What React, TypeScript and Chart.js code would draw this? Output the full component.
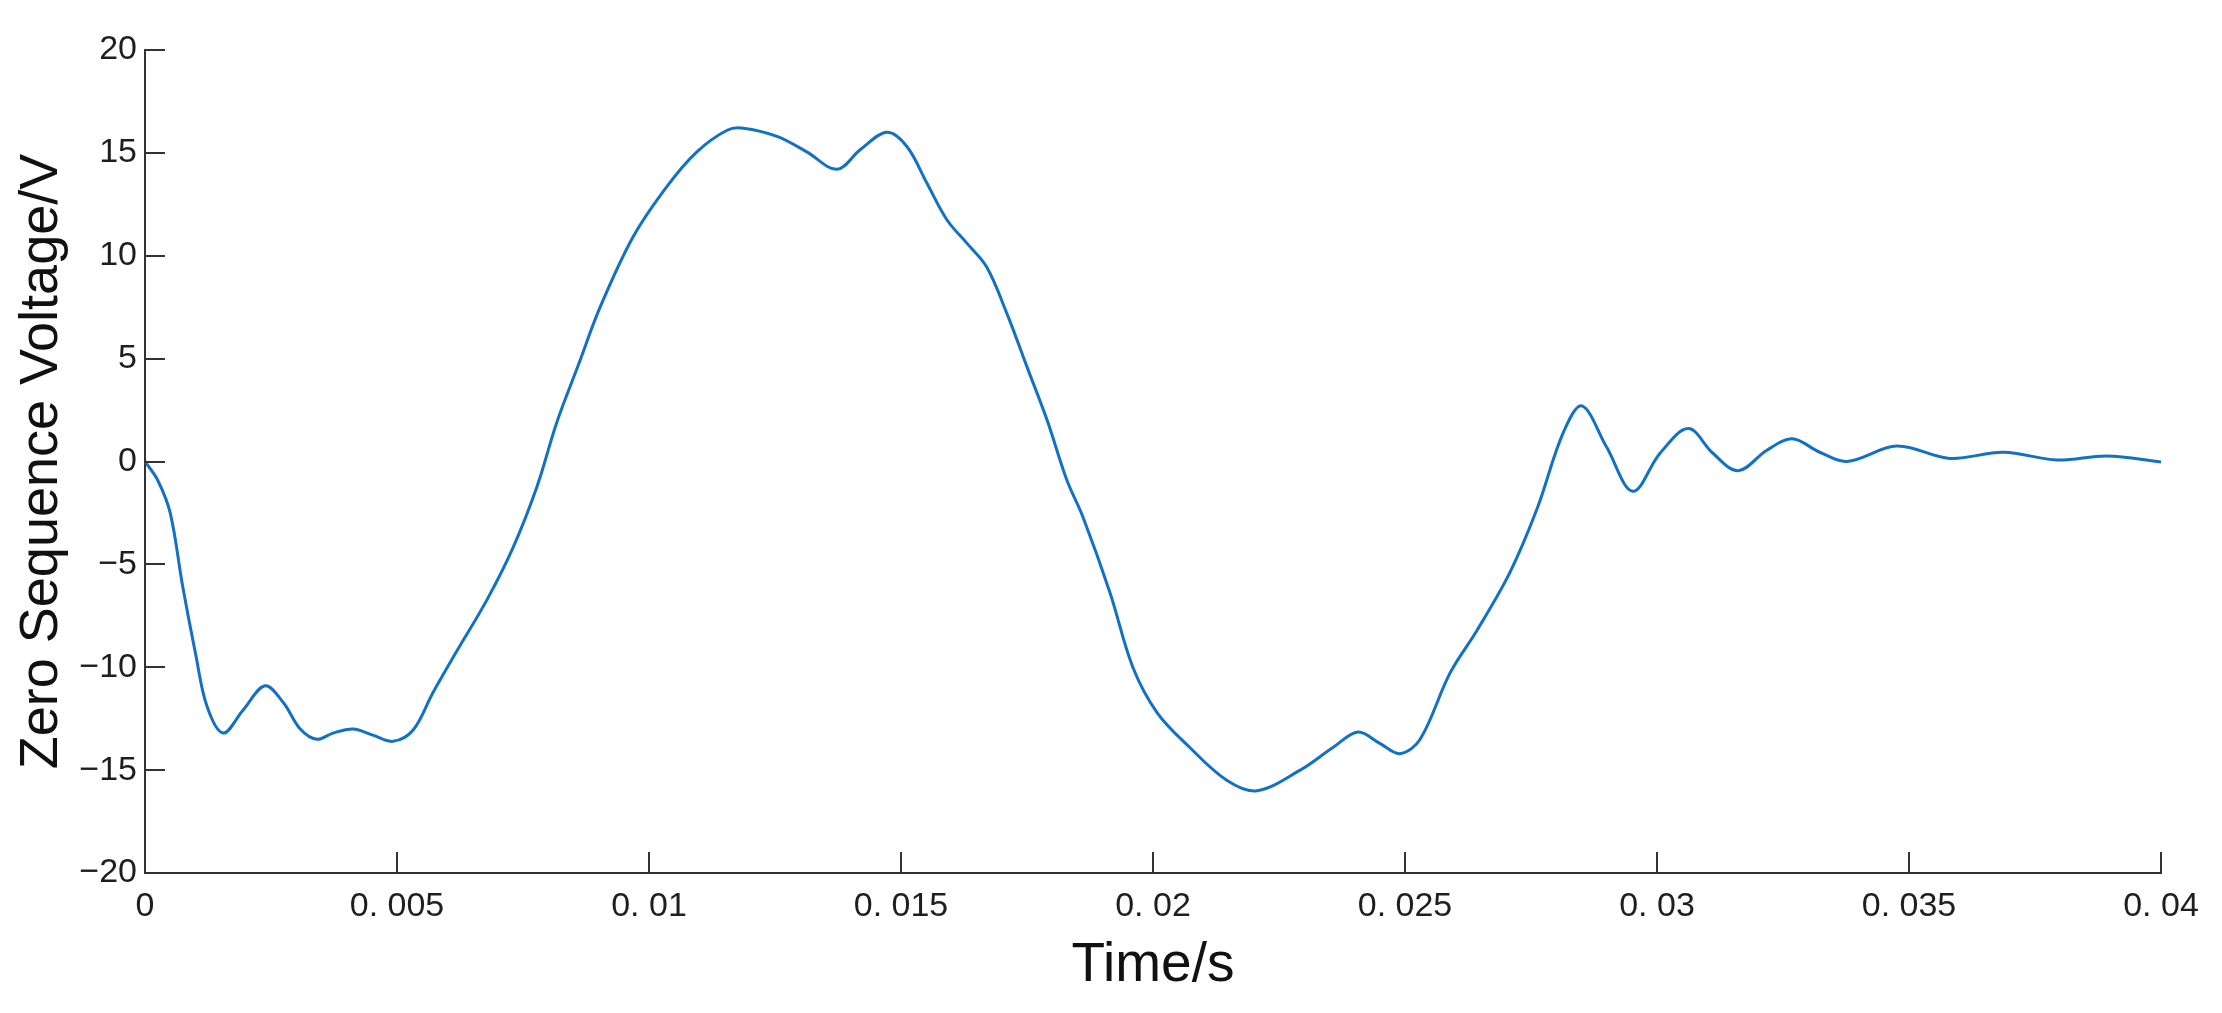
import React, { useEffect, useRef } from "react";
import { Chart, registerables } from "chart.js";

Chart.register(...registerables);

// Time (s) and zero-sequence voltage (V)
const times: number[] = [
  0, 0.00025, 0.0005, 0.00075, 0.001, 0.00123, 0.00155, 0.00194, 0.00238, 0.00274,
  0.00308, 0.00341, 0.00373, 0.00413, 0.00452, 0.00492, 0.00532, 0.00571, 0.00619, 0.00679,
  0.0073, 0.00778, 0.00817, 0.0086, 0.00903, 0.00968, 0.01035, 0.01095, 0.01155, 0.01187,
  0.01254, 0.01313, 0.01373, 0.01419, 0.01472, 0.01512, 0.01551, 0.01591, 0.01631, 0.0167,
  0.0171, 0.0175, 0.0179, 0.01829, 0.01861, 0.01915, 0.0196, 0.02008, 0.02073, 0.02147,
  0.02206, 0.02292, 0.02357, 0.02407, 0.0245, 0.0249, 0.0253, 0.02589, 0.02643, 0.02708,
  0.02762, 0.02814, 0.02851, 0.029, 0.02952, 0.03006, 0.03062, 0.03111, 0.03161, 0.03218,
  0.03268, 0.03323, 0.03377, 0.03476, 0.03581, 0.03687, 0.03794, 0.03893, 0.04,
];
const volts: number[] = [
  0, -0.9, -2.5, -6.1, -9.3, -11.9, -13.2, -12.1, -10.9, -11.7,
  -13.0, -13.5, -13.2, -13.0, -13.3, -13.6, -13.05, -11.25, -9.2, -6.7,
  -4.2, -1.2, 1.9, 4.7, 7.5, 10.9, 13.35, 15.05, 16.1, 16.2,
  15.8, 15.05, 14.2, 15.15, 16.0, 15.3, 13.55, 11.75, 10.6, 9.45,
  7.2, 4.6, 2.0, -0.9, -2.7, -6.4, -10.0, -12.2, -13.9, -15.5,
  -16.0, -15.0, -13.9, -13.15, -13.7, -14.2, -13.5, -10.3, -8.2, -5.4,
  -2.3, 1.4, 2.7, 0.7, -1.45, 0.4, 1.6, 0.4, -0.45, 0.55,
  1.1, 0.45, 0.0, 0.75, 0.15, 0.45, 0.07, 0.27, -0.02,
];

const xTickValues: number[] = [0, 0.005, 0.01, 0.015, 0.02, 0.025, 0.03, 0.035, 0.04];
const xTickLabels: string[] = ["0", "0. 005", "0. 01", "0. 015", "0. 02", "0. 025", "0. 03", "0. 035", "0. 04"];
const yTickValues: number[] = [-20, -15, -10, -5, 0, 5, 10, 15, 20];
const yTickLabels: string[] = ["\u221220", "\u221215", "\u221210", "\u22125", "0", "5", "10", "15", "20"];

const xTitle = "Time/s";
const yTitle = "Zero Sequence Voltage/V";

const W = 2222;
const H = 1013;

const innerTicks = {
  id: "innerTicks",
  afterDraw(chart: any) {
    const { ctx, chartArea, scales } = chart;
    ctx.save();
    ctx.strokeStyle = "#333333";
    ctx.lineWidth = 2;
    ctx.beginPath();
    yTickValues.forEach((v) => {
      const py = Math.round(scales.y.getPixelForValue(v));
      ctx.moveTo(chartArea.left, py);
      ctx.lineTo(chartArea.left + 20, py);
    });
    xTickValues.forEach((v) => {
      const px = Math.round(scales.x.getPixelForValue(v));
      ctx.moveTo(px, chartArea.bottom);
      ctx.lineTo(px, chartArea.bottom - 21);
    });
    ctx.stroke();
    ctx.restore();
  },
};

export default function App() {
  const ref = useRef<HTMLCanvasElement | null>(null);
  useEffect(() => {
    document.body.style.margin = "0";
    const canvas = ref.current;
    if (!canvas) return;
    const chart = new Chart(canvas, {
      type: "line",
      data: {
        datasets: [
          {
            data: times.map((t, i) => ({ x: t, y: volts[i] })),
            borderColor: "#1271C4",
            borderWidth: 3,
            pointRadius: 0,
            fill: false,
            tension: 0.35,
          },
        ],
      },
      options: {
        responsive: false,
        animation: false,
        devicePixelRatio: 1,
        layout: { padding: { top: 50, right: 61, left: 0, bottom: 0 } },
        plugins: { legend: { display: false }, tooltip: { enabled: false } },
        scales: {
          x: {
            type: "linear",
            min: 0,
            max: 0.04,
            afterFit: (s: any) => {
              s.height = 140;
            },
            afterBuildTicks: (s: any) => {
              s.ticks = xTickValues.map((v) => ({ value: v }));
            },
            ticks: {
              autoSkip: false,
              maxRotation: 0,
              padding: 13,
              color: "#1e1e1e",
              font: { family: "'Liberation Sans', Arial, sans-serif", size: 34, lineHeight: 1.2 },
              callback: (v: any) => {
                const i = xTickValues.findIndex((t) => Math.abs(t - Number(v)) < 1e-9);
                return i >= 0 ? xTickLabels[i] : "";
              },
            },
            grid: { display: false, drawTicks: false },
            border: { display: true, color: "#333333", width: 2 },
            title: {
              display: true,
              text: xTitle,
              color: "#111111",
              font: { family: "'Liberation Sans', Arial, sans-serif", size: 55, lineHeight: 1 },
              padding: { top: 0, bottom: 20 },
            },
          },
          y: {
            type: "linear",
            min: -20,
            max: 20,
            afterFit: (s: any) => {
              s.width = 145;
            },
            afterBuildTicks: (s: any) => {
              s.ticks = yTickValues.map((v) => ({ value: v }));
            },
            ticks: {
              autoSkip: false,
              padding: 8,
              color: "#1e1e1e",
              font: { family: "'Liberation Sans', Arial, sans-serif", size: 34, lineHeight: 1.2 },
              callback: (v: any) => {
                const i = yTickValues.findIndex((t) => Math.abs(t - Number(v)) < 1e-9);
                return i >= 0 ? yTickLabels[i] : "";
              },
            },
            grid: { display: false, drawTicks: false },
            border: { display: true, color: "#333333", width: 2 },
            title: {
              display: true,
              text: yTitle,
              color: "#111111",
              font: { family: "'Liberation Sans', Arial, sans-serif", size: 54, lineHeight: 1 },
              padding: { top: 15, bottom: 0 },
            },
          },
        },
      },
      plugins: [innerTicks],
    });
    return () => chart.destroy();
  }, []);
  return (
    <div style={{ position: "fixed", left: 0, top: 0, width: W, height: H, background: "#ffffff" }}>
      <canvas ref={ref} width={W} height={H} style={{ width: W, height: H, display: "block" }} />
    </div>
  );
}
